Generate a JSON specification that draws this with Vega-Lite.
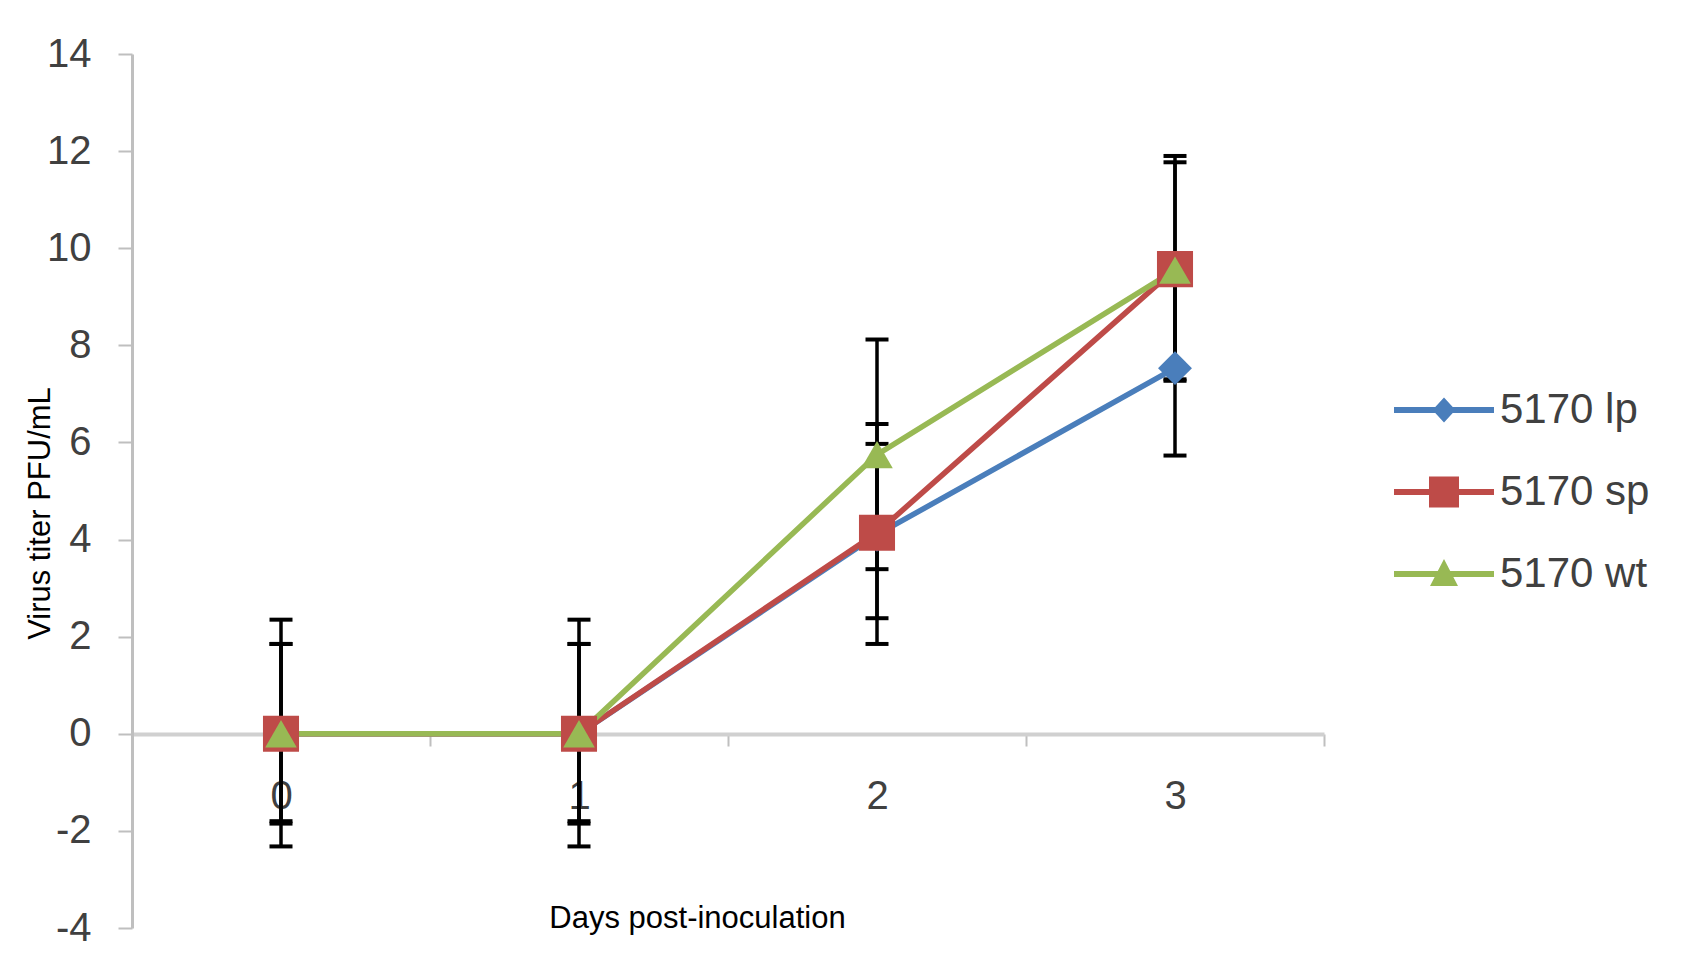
{
  "$schema": "https://vega.github.io/schema/vega-lite/v6.json",
  "autosize": {"type": "none"},
  "padding": {"left": 132, "top": 54, "right": 375, "bottom": 45},
  "width": 1192,
  "height": 874,
  "background": "white",
  "config": {"view": {"stroke": null}, "font": "Liberation Sans"},
  "data": {
    "values": [
      {"day": 0, "series": "5170 lp", "y": 0, "lo": -1.85, "hi": 1.85},
      {"day": 1, "series": "5170 lp", "y": 0, "lo": -1.85, "hi": 1.85},
      {"day": 2, "series": "5170 lp", "y": 4.1, "lo": 2.38, "hi": 5.97},
      {"day": 3, "series": "5170 lp", "y": 7.53, "lo": 5.73, "hi": 9.33},
      {"day": 0, "series": "5170 sp", "y": 0, "lo": -2.32, "hi": 2.35},
      {"day": 1, "series": "5170 sp", "y": 0, "lo": -2.32, "hi": 2.35},
      {"day": 2, "series": "5170 sp", "y": 4.14, "lo": 1.85, "hi": 6.38},
      {"day": 3, "series": "5170 sp", "y": 9.57, "lo": 7.27, "hi": 11.9},
      {"day": 0, "series": "5170 wt", "y": 0, "lo": -1.8, "hi": 1.85},
      {"day": 1, "series": "5170 wt", "y": 0, "lo": -1.8, "hi": 1.85},
      {"day": 2, "series": "5170 wt", "y": 5.75, "lo": 3.39, "hi": 8.12},
      {"day": 3, "series": "5170 wt", "y": 9.55, "lo": 7.3, "hi": 11.77}
    ]
  },
  "encoding": {
    "x": {
      "field": "day", "type": "ordinal",
      "scale": {"type": "band", "paddingInner": 0, "paddingOuter": 0},
      "axis": {
        "orient": "bottom", "offset": -194, "tickBand": "extent",
        "domainColor": "#D0D0D0", "domainWidth": 4,
        "tickColor": "#BFBFBF", "tickWidth": 2, "tickSize": 12,
        "labelPadding": 30, "labelFontSize": 40, "labelAngle": 0, "labelBaseline": "top",
        "labelColor": "#404040", "labelFont": "Liberation Sans", "grid": false,
        "title": "Days post-inoculation", "titleFont": "Liberation Sans", "titleFontSize": 31,
        "titleFontWeight": "normal", "titleColor": "#000000",
        "titleX": 565, "titleY": 184, "titleAlign": "center", "titleBaseline": "middle"
      }
    }
  },
  "layer": [
    {
      "mark": {"type": "rule", "color": "#000000", "strokeWidth": 3.5},
      "encoding": {
        "y": {
          "field": "lo", "type": "quantitative",
          "scale": {"domain": [-4, 14], "nice": false, "zero": false},
          "axis": {
            "values": [-4, -2, 0, 2, 4, 6, 8, 10, 12, 14],
            "labelExpr": "datum.value < 0 ? '-' + abs(datum.value) : datum.label",
            "domainColor": "#BFBFBF", "domainWidth": 3,
            "tickColor": "#BFBFBF", "tickWidth": 2, "tickSize": 14,
            "labelPadding": 27, "labelFontSize": 40, "labelColor": "#404040",
            "labelFont": "Liberation Sans", "grid": false,
            "title": "Virus titer PFU/mL", "titleFont": "Liberation Sans", "titleFontSize": 31,
            "titleFontWeight": "normal", "titleColor": "#000000",
            "titleX": -92, "titleY": 459, "titleAngle": -90, "titleAlign": "center", "titleBaseline": "middle"
          }
        },
        "y2": {"field": "hi"}
      }
    },
    {
      "mark": {"type": "tick", "color": "#000000", "size": 23, "thickness": 4, "opacity": 1},
      "encoding": {"y": {"field": "lo", "type": "quantitative"}}
    },
    {
      "mark": {"type": "tick", "color": "#000000", "size": 23, "thickness": 4, "opacity": 1},
      "encoding": {"y": {"field": "hi", "type": "quantitative"}}
    },
    {
      "mark": {"type": "line", "strokeWidth": 5.5},
      "encoding": {
        "y": {"field": "y", "type": "quantitative"},
        "color": {
          "field": "series", "type": "nominal",
          "scale": {"domain": ["5170 lp", "5170 sp", "5170 wt"], "range": ["#4A7EBB", "#BE4B48", "#98B954"]},
          "legend": {
            "orient": "none", "legendX": 1262, "legendY": 315, "title": null,
            "symbolSize": 10000, "symbolStrokeWidth": 0, "clipHeight": 82, "rowPadding": 0, "padding": 0,
            "labelFont": "Liberation Sans", "labelFontSize": 42, "labelColor": "#404040", "labelOffset": 6,
            "encode": {
              "symbols": {
                "update": {
                  "shape": {"signal": "datum.value === '5170 lp' ? 'M-1,-0.06L1,-0.06L1,0.06L-1,0.06Z M0,-0.25L0.23,0L0,0.25L-0.23,0Z' : datum.value === '5170 sp' ? 'M-1,-0.06L1,-0.06L1,0.06L-1,0.06Z M-0.3,-0.31L0.3,-0.31L0.3,0.31L-0.3,0.31Z' : 'M-1,-0.06L1,-0.06L1,0.06L-1,0.06Z M0,-0.3L0.28,0.24L-0.28,0.24Z'"},
                  "size": {"value": 10000},
                  "fill": {"scale": "color", "field": "value"},
                  "stroke": {"value": "transparent"},
                  "strokeWidth": {"value": 0},
                  "opacity": {"value": 1}
                }
              }
            }
          }
        }
      }
    },
    {
      "transform": [{"filter": "datum.series === '5170 lp'"}],
      "mark": {"type": "point", "filled": true, "opacity": 1, "strokeWidth": 0, "shape": "diamond", "size": 1150},
      "encoding": {
        "y": {"field": "y", "type": "quantitative"},
        "color": {"field": "series", "type": "nominal"}
      }
    },
    {
      "transform": [{"filter": "datum.series === '5170 sp'"}],
      "mark": {"type": "point", "filled": true, "opacity": 1, "strokeWidth": 0, "shape": "square", "size": 1300},
      "encoding": {
        "y": {"field": "y", "type": "quantitative"},
        "color": {"field": "series", "type": "nominal"}
      }
    },
    {
      "transform": [{"filter": "datum.series === '5170 wt'"}],
      "mark": {"type": "point", "filled": true, "opacity": 1, "strokeWidth": 0, "shape": "triangle-up", "size": 1000},
      "encoding": {
        "y": {"field": "y", "type": "quantitative"},
        "color": {"field": "series", "type": "nominal"}
      }
    }
  ]
}
